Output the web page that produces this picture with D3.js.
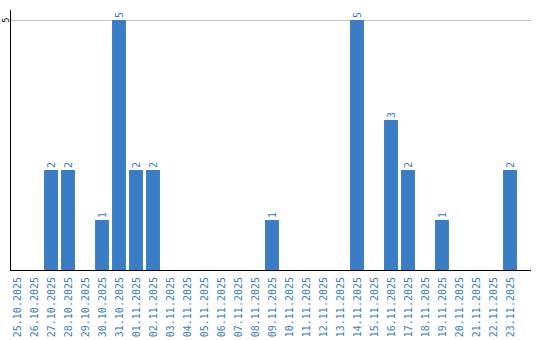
<!DOCTYPE html>
<html>
<head>
<meta charset="utf-8">
<script src="https://cdn.jsdelivr.net/npm/d3@7"></script>
<style>
body{margin:0;background:#fff}
svg{display:block}
</style>
</head>
<body>
<svg></svg>
<script>
var days=["25.10.2025","26.10.2025","27.10.2025","28.10.2025","29.10.2025","30.10.2025","31.10.2025",
"01.11.2025","02.11.2025","03.11.2025","04.11.2025","05.11.2025","06.11.2025","07.11.2025","08.11.2025",
"09.11.2025","10.11.2025","11.11.2025","12.11.2025","13.11.2025","14.11.2025","15.11.2025","16.11.2025",
"17.11.2025","18.11.2025","19.11.2025","20.11.2025","21.11.2025","22.11.2025","23.11.2025"]
var counts=[0,0,2,2,0,1,5,2,2,0,0,0,0,0,0,1,0,0,0,0,5,0,3,2,0,1,0,0,0,2]
var yTicks=[5]

var width=540, height=340
var svg=d3.select("svg").attr("width",width).attr("height",height)

var blue="#3b7dc4"

var x=d3.scaleBand()
    .domain(days)
    .range([8.5,518.5])
    .paddingInner(0.18)
    .paddingOuter(0.09)

var y=d3.scaleLinear()
    .domain([0,5])
    .range([270,20])

// grid line at 5
svg.selectAll("line.grid")
    .data(yTicks)
    .enter()
    .append("line")
    .attr("class","grid")
    .attr("x1",10).attr("x2",531)
    .attr("y1",function(d){return y(d)+0.5})
    .attr("y2",function(d){return y(d)+0.5})
    .attr("stroke","#c8c8c8")

svg.selectAll("text.ytick")
    .data(yTicks)
    .enter()
    .append("text")
    .attr("class","ytick")
    .attr("transform",function(d){return "translate(8.5,"+y(d)+") rotate(-90)"})
    .attr("text-anchor","middle")
    .attr("font-family","DejaVu Sans Mono, monospace")
    .attr("font-size","8px")
    .attr("fill","#000")
    .text(function(d){return d})

var data=days.map(function(d,i){return {day:d,count:counts[i]}})

svg.selectAll("rect.bar")
    .data(data.filter(function(d){return d.count>0}))
    .enter()
    .append("rect")
    .attr("class","bar")
    .attr("x",function(d){return x(d.day)})
    .attr("y",function(d){return y(d.count)})
    .attr("width",x.bandwidth())
    .attr("height",function(d){return y(0)-y(d.count)})
    .attr("fill",blue)

// value labels
svg.selectAll("text.val")
    .data(data.filter(function(d){return d.count>0}))
    .enter()
    .append("text")
    .attr("class","val")
    .attr("transform",function(d){
        return "translate("+(x(d.day)+x.bandwidth()/2+3.5)+","+(y(d.count)-2)+") rotate(-90)"})
    .attr("text-anchor","start")
    .attr("font-family","DejaVu Sans Mono, monospace")
    .attr("font-size","10px")
    .attr("fill",blue)
    .text(function(d){return d.count})

// axes lines
svg.append("line")
    .attr("x1",10.5).attr("x2",10.5)
    .attr("y1",10).attr("y2",270)
    .attr("stroke","#000")
svg.append("line")
    .attr("x1",10).attr("x2",531)
    .attr("y1",270.5).attr("y2",270.5)
    .attr("stroke","#000")

// x labels
svg.selectAll("text.xlab")
    .data(days)
    .enter()
    .append("text")
    .attr("class","xlab")
    .attr("transform",function(d){
        return "translate("+(x(d)+x.bandwidth()/2+3.5)+",277) rotate(-90)"})
    .attr("text-anchor","end")
    .attr("font-family","DejaVu Sans Mono, monospace")
    .attr("font-size","10px")
    .attr("fill",blue)
    .text(function(d){return d})
</script>
</body>
</html>
